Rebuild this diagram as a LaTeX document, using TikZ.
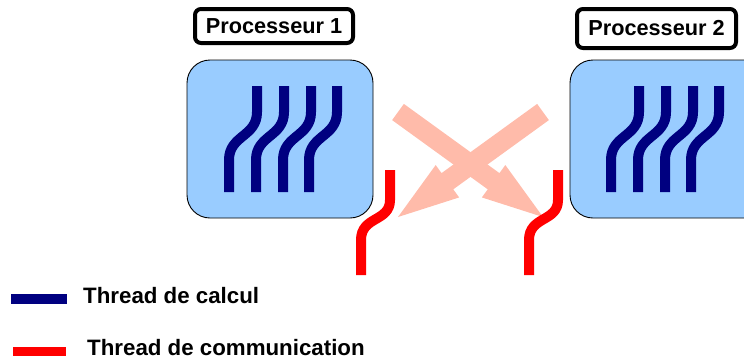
\documentclass[tikz,border=0pt]{standalone}
\usepackage{fontspec}
\setmainfont{Liberation Sans}
\usetikzlibrary{calc}
\definecolor{procfill}{HTML}{99CCFF}
\definecolor{calcblue}{HTML}{000080}
\definecolor{commred}{HTML}{FF0000}
\definecolor{msgpink}{HTML}{FFBBAA}

% block arrow from #1 (tail centre) to #2 (tip)
\newcommand\drawmsgarrow[2]{%
  \coordinate (#1-b) at ($(#2)!61pt!(#1)$);
  \fill[msgpink]
    ($(#1)!10pt!90:(#2)$) -- ($(#1-b)!10pt!90:(#2)$) -- ($(#1-b)!20pt!90:(#2)$)
    -- (#2)
    -- ($(#1-b)!20pt!-90:(#2)$) -- ($(#1-b)!10pt!-90:(#2)$) -- ($(#1)!10pt!-90:(#2)$)
    -- cycle;}

\begin{document}
\begin{tikzpicture}[x=1pt,y=-1pt,
  procbox/.style={draw=black,line width=0.9pt,fill=procfill,rounded corners=23pt,
    minimum width=#1,minimum height=158pt,inner sep=0pt},
  namebox/.style={draw=black,line width=4pt,rounded corners=6pt,fill=white,inner sep=0pt,
    font=\bfseries\fontsize{21.7}{24}\selectfont},
  calcthread/.style={draw=calcblue,line width=10pt,line cap=butt},
  commthread/.style={draw=commred,line width=10pt,line cap=butt},
  legendtext/.style={anchor=base west,inner sep=0pt,font=\bfseries\fontsize{22.3}{25}\selectfont}]
\useasboundingbox (0,0) rectangle (744,360);
\clip (0,0) rectangle (744,360);

% message arrows between the two processors
\coordinate (a1s) at (398,112);
\coordinate (a1t) at (543,217);
\coordinate (a2s) at (543,112);
\coordinate (a2t) at (398,217);
\drawmsgarrow{a1s}{a1t}
\drawmsgarrow{a2s}{a2t}

% processors
\node[procbox=186pt] (p1) at (280,139) {};
\node[procbox=220pt] (p2) at (680,139) {};

% processor names
\node[namebox,minimum width=158pt,minimum height=34pt] (n1) at (274,26)
  {\raisebox{-2.5pt}{Processeur 1}};
\node[namebox,minimum width=159pt,minimum height=39pt] (n2) at (656.5,28.5)
  {\raisebox{-2.5pt}{Processeur 2}};

% computation threads
\foreach \xt in {257,284,311,337,639,666,693,719}
  \draw[calcthread] (\xt,86) -- (\xt,112)
    .. controls (\xt,137) and ({\xt-28},135) .. ({\xt-28},160) -- ({\xt-28},192);

% communication threads
\foreach \xt in {390,558}
  \draw[commthread] (\xt,170) -- (\xt,200)
    .. controls (\xt,222) and ({\xt-29},216) .. ({\xt-29},240) -- ({\xt-29},275);

% legend
\coordinate (lb1) at (11,299);
\coordinate (lb2) at (67,299);
\coordinate (lr1) at (13,351.5);
\coordinate (lr2) at (66,351.5);
\draw[draw=calcblue,line width=10pt] (lb1) -- (lb2);
\draw[draw=commred,line width=9pt] (lr1) -- (lr2);
\node[legendtext] (t1) at (83,303) {Thread de calcul};
\node[legendtext] (t2) at (87,355) {Thread de communication};
\end{tikzpicture}
\end{document}
